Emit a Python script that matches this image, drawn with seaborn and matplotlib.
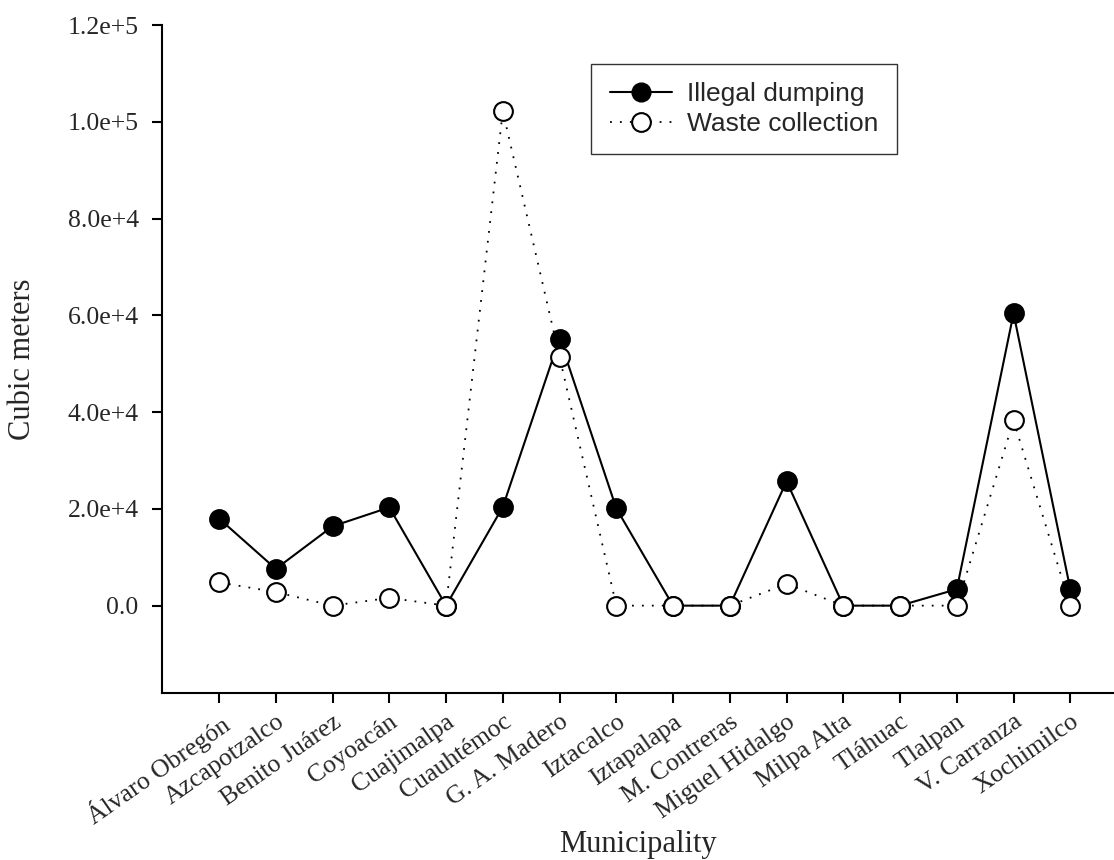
import numpy as np
import pandas as pd
import matplotlib
matplotlib.use("Agg")
import matplotlib.pyplot as plt
from matplotlib.lines import Line2D
import seaborn as sns

municipalities = ["Álvaro Obregón", "Azcapotzalco", "Benito Juárez", "Coyoacán",
                  "Cuajimalpa", "Cuauhtémoc", "G. A. Madero", "Iztacalco",
                  "Iztapalapa", "M. Contreras", "Miguel Hidalgo", "Milpa Alta",
                  "Tláhuac", "Tlalpan", "V. Carranza", "Xochimilco"]
illegal_dumping = [18000, 7600, 16400, 20300, 0, 20400, 55200, 20100,
                   0, 0, 25700, 0, 0, 3400, 60400, 3400]
waste_collection = [4800, 2800, 0, 1600, 0, 102200, 51400, 0,
                    0, 0, 4500, 0, 0, 0, 38300, 0]
y_ticks = [0, 20000, 40000, 60000, 80000, 100000, 120000]
y_tick_labels = ["0.0", "2.0e+4", "4.0e+4", "6.0e+4", "8.0e+4", "1.0e+5", "1.2e+5"]

df = pd.DataFrame({"municipality": municipalities,
                   "dumping": illegal_dumping,
                   "collection": waste_collection})

sns.set_style("ticks")
serif = ["Liberation Serif", "DejaVu Serif"]
sans = ["Liberation Sans", "DejaVu Sans"]

fig = plt.figure(figsize=(11.14, 8.6), dpi=100)
ax = fig.add_axes([0.1457, 0.1945, 0.8543, 0.7764])

# solid line, filled markers
sns.lineplot(data=df, x="municipality", y="dumping", ax=ax, sort=False,
             color="black", linewidth=1.5, marker="o", markersize=13.5,
             markerfacecolor="black", markeredgecolor="black", markeredgewidth=1.5,
             zorder=2)
# dotted line, open markers (drawn on top)
sns.lineplot(data=df, x="municipality", y="collection", ax=ax, sort=False,
             color="black", linewidth=1.3, linestyle=(0, (1, 4.5)), marker="o",
             markersize=13.5, markerfacecolor="white", markeredgecolor="black",
             markeredgewidth=1.5, zorder=3)

ax.set_xlim(-1, 15.77)
ax.set_ylim(-18000, 120000)
ax.set_yticks(y_ticks)
ax.set_yticklabels(y_tick_labels, family=serif, fontsize=18.5)
ax.set_xticks(range(len(municipalities)))
ax.set_xticklabels(municipalities, family=serif, fontsize=18.5, rotation=35,
                   ha="right", rotation_mode="anchor")

ax.tick_params(axis="both", direction="out", length=7, width=1.5, color="black")
ax.tick_params(axis="y", pad=10)
ax.tick_params(axis="x", pad=6)

ax.set_xlabel("Municipality", family=serif, fontsize=22, va="top")
ax.xaxis.set_label_coords(0.5, -0.205)
ax.set_ylabel("Cubic meters", family=serif, fontsize=22, va="center")
ax.yaxis.set_label_coords(-0.147, 0.5)

for s in ["top", "right"]:
    ax.spines[s].set_visible(False)
for s in ["left", "bottom"]:
    ax.spines[s].set_linewidth(1.5)
    ax.spines[s].set_color("black")

handles = [
    Line2D([], [], color="black", linewidth=1.5, marker="o", markersize=13.5,
           markerfacecolor="black", markeredgecolor="black"),
    Line2D([], [], color="black", linewidth=1.3, linestyle=(0, (1, 4.5)), marker="o",
           markersize=13.5, markerfacecolor="white", markeredgecolor="black",
           markeredgewidth=1.5),
]
leg = ax.legend(handles, ["Illegal dumping", "Waste collection"],
                loc="upper left", bbox_to_anchor=(0.4505, 0.9416), borderaxespad=0,
                prop={"family": sans, "size": 19}, frameon=True, fancybox=False,
                handlelength=2.35, handletextpad=0.6, labelspacing=0.2,
                borderpad=0.7)
leg.get_frame().set_edgecolor("black")
leg.get_frame().set_linewidth(1.0)

fig.savefig("out.png", dpi=100)
